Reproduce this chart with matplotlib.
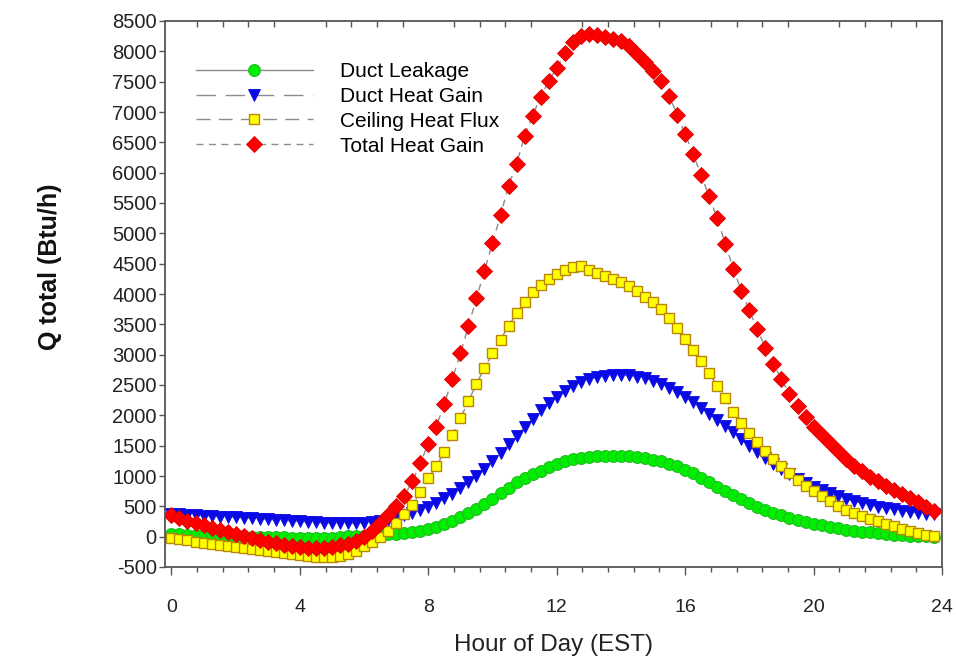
import numpy as np
import matplotlib
matplotlib.use("Agg")
import matplotlib.pyplot as plt
from matplotlib.ticker import MultipleLocator, FixedLocator

plt.rcParams['font.family'] = ['Liberation Sans', 'DejaVu Sans']
plt.rcParams['axes.unicode_minus'] = False

# quarter-hour samples over one day
hours = np.arange(0, 24, 0.25)

duct_leakage = [
    40, 36, 32, 28, 24, 20, 16, 12, 8, 4, 0, -3, -6, -9, -12, -15,
    -17, -19, -20, -20, -15, -5, 5, 12, 18, 24, 32, 42, 52, 64, 80, 100,
    125, 160, 205, 260, 320, 390, 460, 540, 620, 720, 810, 895, 970, 1035, 1090, 1145,
    1195, 1240, 1272, 1295, 1312, 1323, 1330, 1333, 1330, 1322, 1310, 1293, 1270, 1240, 1203, 1158,
    1105, 1045, 975, 900, 825, 750, 680, 615, 552, 495, 443, 397, 354, 313, 276, 242,
    212, 185, 160, 138, 118, 100, 84, 70, 57, 45, 34, 25, 17, 10, 4, 0,
]

duct_heat_gain = [
    380, 372, 364, 356, 348, 340, 332, 324, 316, 308, 300, 292, 284, 276, 268, 260,
    252, 244, 236, 228, 222, 218, 218, 222, 228, 238, 252, 275, 310, 350, 395, 440,
    495, 555, 630, 710, 800, 895, 1000, 1115, 1240, 1380, 1520, 1665, 1805, 1945, 2080, 2200,
    2305, 2400, 2480, 2545, 2595, 2630, 2652, 2663, 2665, 2658, 2640, 2612, 2572, 2520, 2455, 2380,
    2300, 2215, 2125, 2030, 1930, 1825, 1720, 1610, 1500, 1395, 1290, 1195, 1110, 1030, 955, 885,
    822, 765, 712, 665, 622, 585, 552, 522, 495, 470, 448, 428, 410, 394, 380, 368,
]

ceiling_heat_flux = [
    -30, -45, -62, -80, -98, -116, -134, -152, -170, -188, -205, -222, -240, -258, -275, -292,
    -308, -322, -332, -338, -335, -318, -285, -230, -150, -80, 0, 100, 225, 370, 530, 730,
    960, 1160, 1400, 1680, 1955, 2230, 2520, 2775, 3020, 3250, 3470, 3680, 3870, 4035, 4145, 4240,
    4325, 4390, 4445, 4458, 4395, 4340, 4298, 4240, 4190, 4130, 4052, 3955, 3860, 3750, 3600, 3435,
    3260, 3076, 2890, 2693, 2484, 2282, 2061, 1880, 1716, 1558, 1420, 1278, 1157, 1048, 938, 839,
    746, 663, 581, 510, 444, 389, 334, 291, 252, 214, 169, 132, 99, 61, 33, 5,
]

total_heat_gain = [
    350, 305, 265, 225, 185, 145, 108, 72, 38, 5, -25, -55, -85, -112, -135, -155,
    -170, -180, -185, -182, -168, -145, -115, -70, 0, 100, 225, 360, 500, 670, 910, 1210,
    1530, 1815, 2190, 2600, 3020, 3470, 3930, 4380, 4840, 5300, 5780, 6150, 6600, 6940, 7255, 7505,
    7725, 7965, 8150, 8258, 8286, 8265, 8240, 8205, 8165, 8095, 7960, 7820, 7680, 7505, 7270, 6955,
    6640, 6300, 5955, 5610, 5245, 4830, 4420, 4050, 3735, 3415, 3115, 2845, 2595, 2350, 2150, 1965,
    1815, 1680, 1540, 1405, 1280, 1160, 1075, 990, 910, 840, 775, 705, 635, 565, 495, 420,
]

fig = plt.figure(figsize=(9.56, 6.58), dpi=100)
ax = fig.add_axes([165 / 956, 1 - 567 / 658, 777 / 956, 546 / 658])

line_col = '#8c8c8c'
ax.plot(hours, duct_leakage, color=line_col, lw=1, ls='-',
        marker='o', ms=8.5, mfc='#00ee00', mec='#22bb22', mew=0.8, label='Duct Leakage')
ax.plot(hours, duct_heat_gain, color=line_col, lw=1, ls=(0, (14, 7)),
        marker='v', ms=8.5, mfc='#0a0ae6', mec='#0a0ae6', mew=0.6, label='Duct Heat Gain')
ax.plot(hours, ceiling_heat_flux, color=line_col, lw=1, ls=(0, (10, 6)),
        marker='s', ms=7.5, mfc='#ffff00', mec='#b8860b', mew=1.0, label='Ceiling Heat Flux')
ax.plot(hours, total_heat_gain, color=line_col, lw=1, ls=(0, (5, 4)),
        marker='D', ms=7.8, mfc='#ff0000', mec='#dd0000', mew=0.6, label='Total Heat Gain')

ax.set_xlim(-0.2, 24)
ax.set_ylim(-500, 8500)
ax.xaxis.set_major_locator(MultipleLocator(4))
ax.xaxis.set_minor_locator(MultipleLocator(0.8))
ax.yaxis.set_major_locator(MultipleLocator(500))

for side in ax.spines:
    ax.spines[side].set_color('#555555')
    ax.spines[side].set_linewidth(1.3)

ax.tick_params(axis='x', which='major', direction='out', length=6, width=1,
               color='#555555', labelsize=14, pad=17, labelcolor='#222222')
ax.tick_params(axis='x', which='minor', direction='out', length=3.5, width=1,
               color='#555555')
ax.tick_params(axis='y', which='major', direction='out', length=4, width=1,
               color='#555555', labelsize=14.5, pad=2, labelcolor='#222222')

# top edge: small inward ticks between the hour labels only
top_ticks = [0.8 * k for k in range(1, 30) if k % 5 != 0]
sec = ax.secondary_xaxis('top')
sec.xaxis.set_major_locator(FixedLocator(top_ticks))
sec.tick_params(direction='in', length=4, width=1, color='#555555', labeltop=False)
sec.spines['top'].set_visible(False)

fig.text(553 / 956, 1 - 645 / 658, 'Hour of Day (EST)', ha='center', va='center',
         fontsize=17.5, color='#222222')
fig.text(50 / 956, 1 - 267 / 658, 'Q total (Btu/h)', ha='center', va='center',
         rotation=90, fontsize=18, fontweight='bold', color='#111111')

ax.legend(loc='upper left', bbox_to_anchor=(31 / 777, (567 - 62) / 546),
          frameon=False, fontsize=15, numpoints=1, handlelength=5.6,
          handletextpad=1.3, labelspacing=0.28, borderpad=0, borderaxespad=0)

fig.savefig('out.png', dpi=100)
